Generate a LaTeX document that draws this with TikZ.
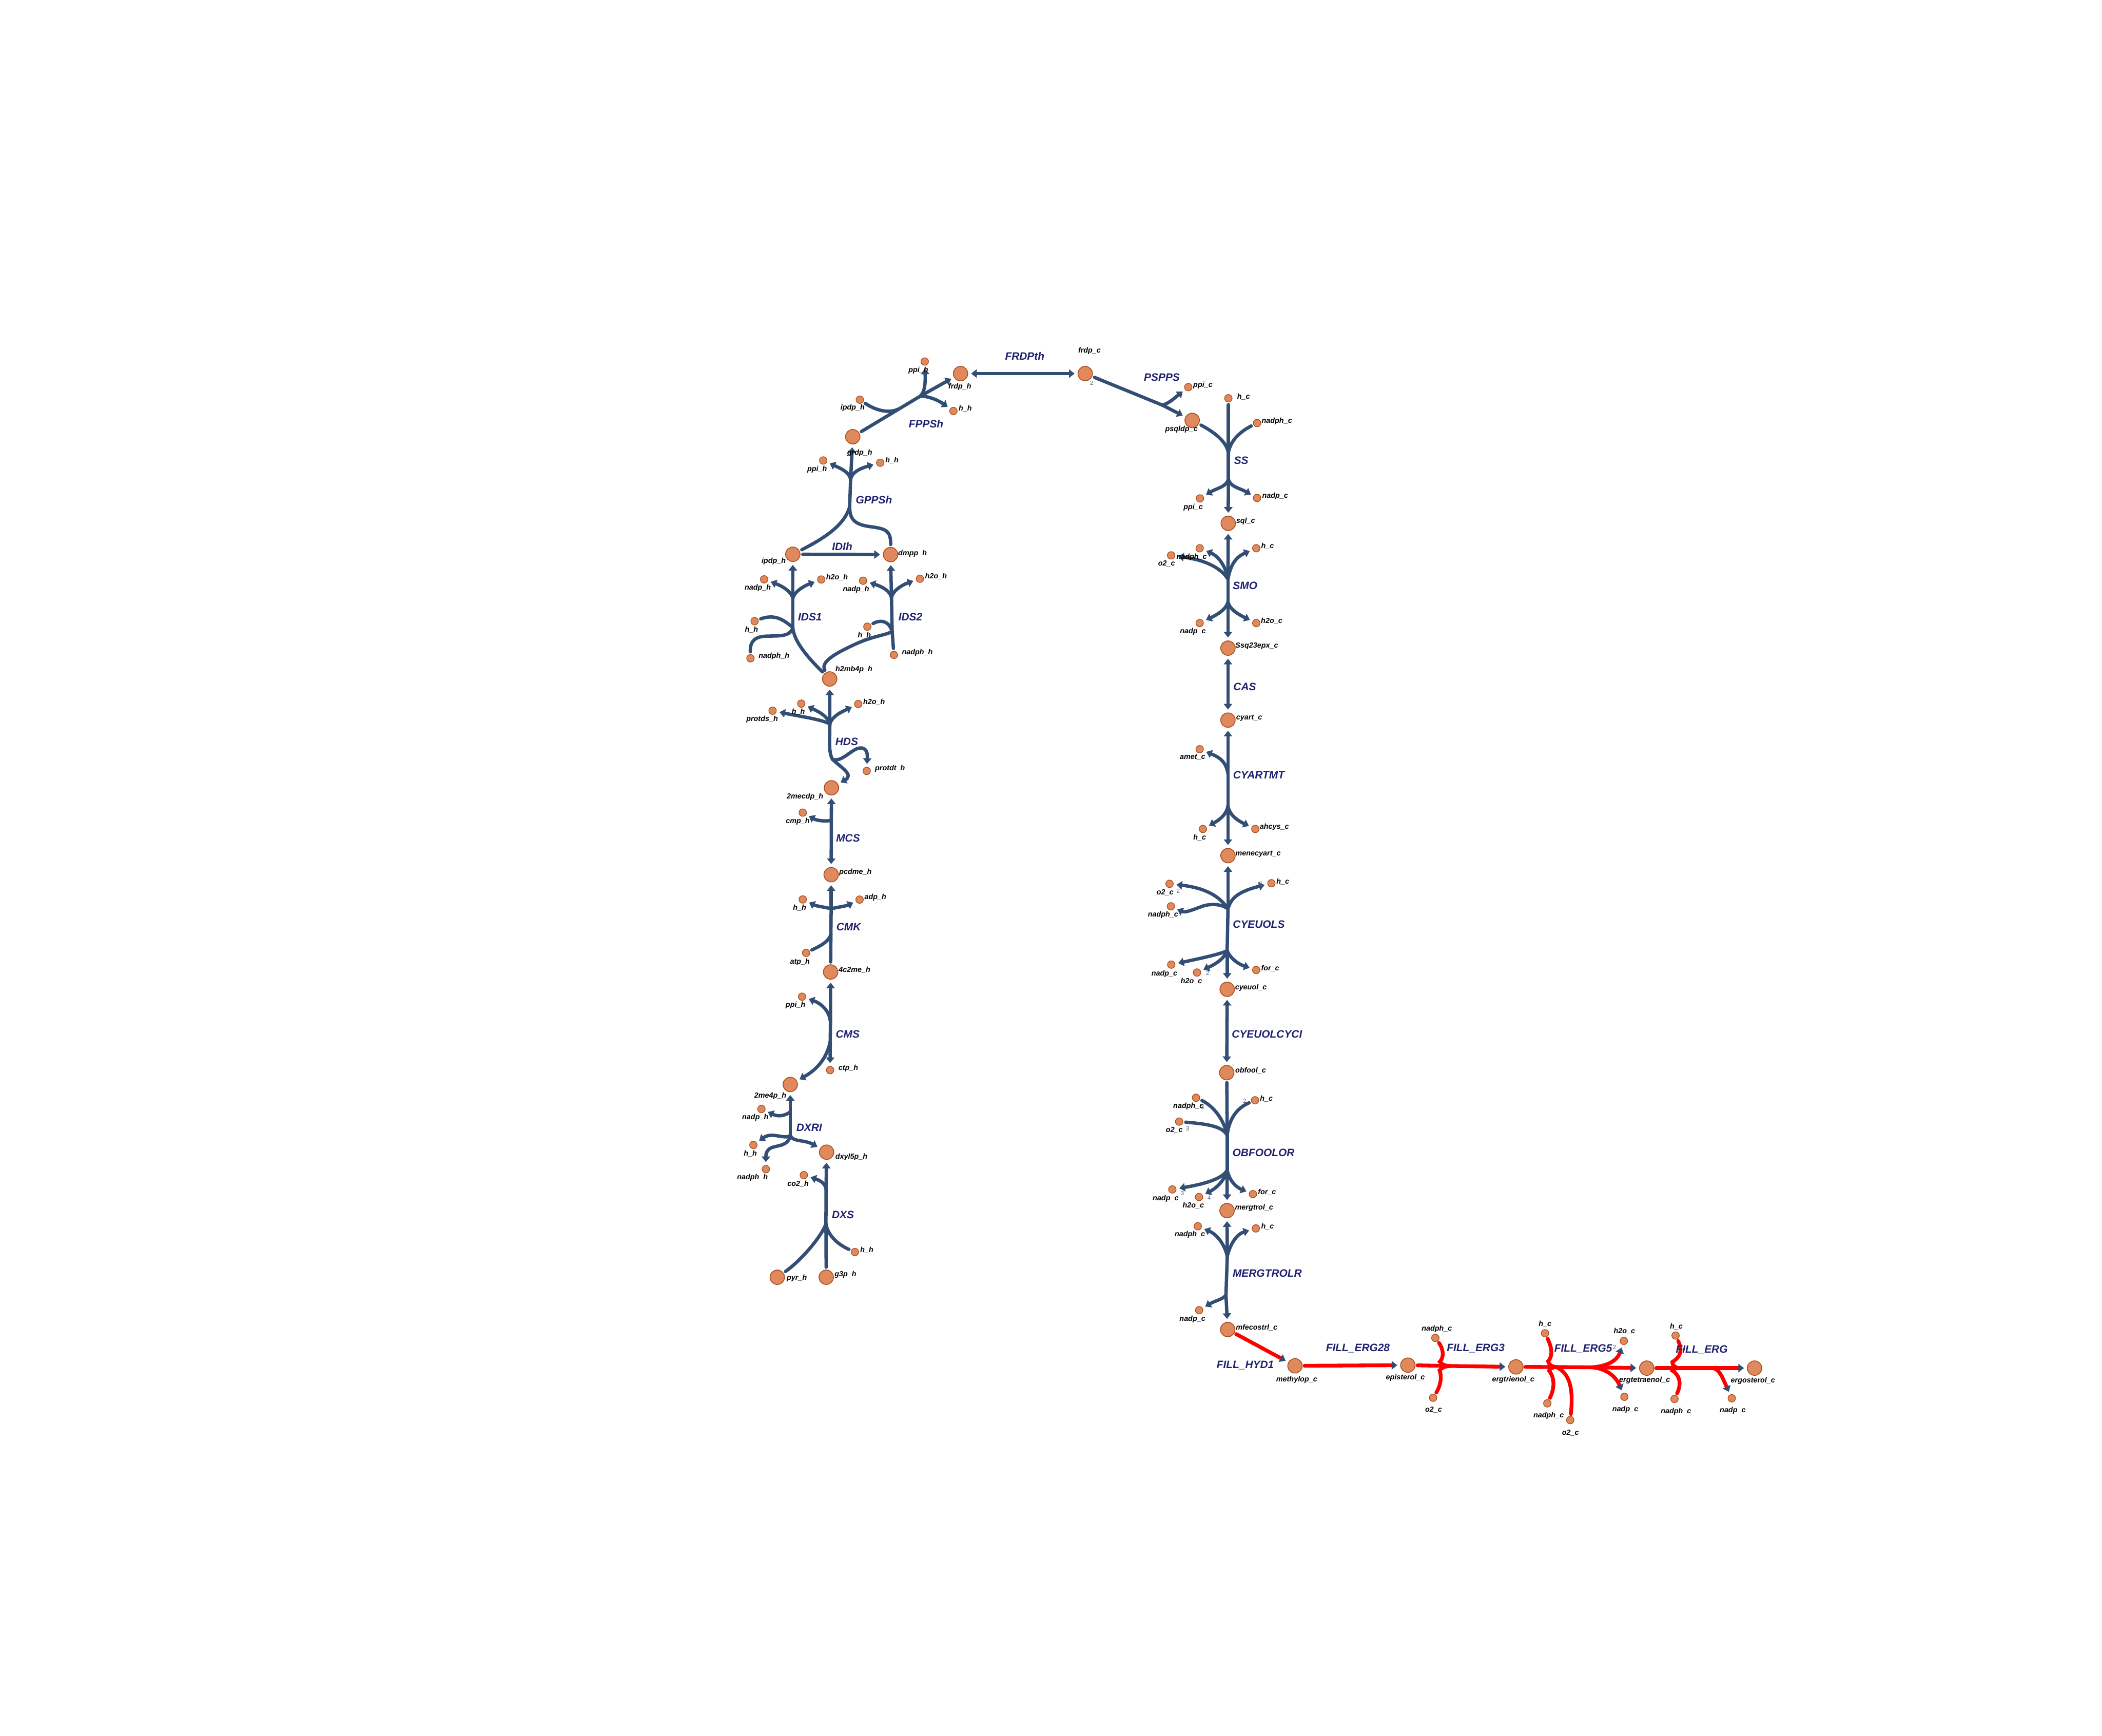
\documentclass[tikz,border=0pt]{standalone}
\usepackage{fontspec}
\setmainfont{Liberation Sans}
\usetikzlibrary{arrows.meta}
\definecolor{eb}{RGB}{51,78,116}
\definecolor{mfill}{RGB}{224,137,92}
\definecolor{mstroke}{RGB}{170,80,30}
\definecolor{rlabc}{RGB}{32,32,112}
\definecolor{stc}{RGB}{80,100,135}
\pgfdeclarelayer{bgl}
\pgfdeclarelayer{edges}
\pgfsetlayers{bgl,edges,main}
\newcommand\mkbig[4]{\node[bigm] (#1) at (#2) {}; \node[mlab] (L#1) at (#3) {#4};}
\newcommand\mksmall[4]{\node[smallm] (#1) at (#2) {}; \node[mlab] (L#1) at (#3) {#4};}
\begin{document}
\begin{tikzpicture}[x=1pt,y=-1pt,
 bigm/.style={circle,draw=mstroke,fill=mfill,line width=0.6pt,minimum size=10.8pt,inner sep=0pt},
 smallm/.style={circle,draw=mstroke,fill=mfill,line width=0.5pt,minimum size=5.6pt,inner sep=0pt},
 mlab/.style={inner sep=0pt,font=\fontsize{5.5}{6}\selectfont\bfseries\itshape},
 rlab/.style={inner sep=0pt,text=rlabc,font=\fontsize{8}{9}\selectfont\bfseries\itshape},
 stl/.style={inner sep=0pt,text=stc,font=\fontsize{4.5}{5}\selectfont},
 rx/.style={draw=eb,line width=2.5pt,line cap=round},
 sub/.style={rx,shorten <=1.8pt},
 prod/.style={rx,-{Triangle[length=4.2pt,width=6.2pt]},shorten >=2.2pt},
 both/.style={rx,{Triangle[length=4.2pt,width=6.2pt]}-{Triangle[length=4.2pt,width=6.2pt]},shorten >=2.2pt,shorten <=2.2pt},
 rd/.style={draw=red,line width=2.8pt,line cap=round},
 rsub/.style={rd,shorten <=1.5pt},
 rprod/.style={rd,-{Triangle[length=4.2pt,width=6.2pt,color=eb]},shorten >=2.2pt},
]
\begin{pgfonlayer}{bgl}
\fill[white] (0,0) rectangle (1568,1295);
\end{pgfonlayer}
\useasboundingbox (0,0) rectangle (1568,1295);

% ---------- chloroplast metabolites
\mkbig{frdph}{716.5,278.7}{716,288.5}{frdp\_h}
\mksmall{fppsppi}{689.8,269.7}{685,276.2}{ppi\_h}
\mksmall{fppsipdp}{641.4,298.2}{636,304.4}{ipdp\_h}
\mksmall{fppsh}{711.2,306.6}{720,304.8}{h\_h}
\mkbig{grdph}{636.1,325.8}{641.3,338}{grdp\_h}
\mksmall{gppsppi}{614.1,343.5}{609.5,350}{ppi\_h}
\mksmall{gppsh}{656.6,345.2}{665.4,343.6}{h\_h}
\mkbig{ipdph}{591.4,413.5}{577.1,418.8}{ipdp\_h}
\mkbig{dmpph}{664.3,413.7}{680.7,412.8}{dmpp\_h}
\mksmall{idsonenadp}{570,432.2}{565.3,438.6}{nadp\_h}
\mksmall{idsoneh}{612.6,432.3}{624.4,430.8}{h2o\_h}
\mksmall{idsonehh}{562.9,463.4}{560.6,469.6}{h\_h}
\mksmall{idsonenadph}{559.8,491.1}{577.4,489.4}{nadph\_h}
\mksmall{idstwonadp}{643.8,433.2}{638.6,439.6}{nadp\_h}
\mksmall{idstwoh}{686.2,431.7}{698.2,430}{h2o\_h}
\mksmall{idstwohh}{647,467.5}{644.8,473.9}{h\_h}
\mksmall{idstwonadph}{666.8,488.5}{684.3,486.7}{nadph\_h}
\mkbig{hmbp}{618.9,506.5}{637,499.5}{h2mb4p\_h}
\mksmall{hdsprotds}{576.3,530.2}{568.5,536.7}{protds\_h}
\mksmall{hdsh}{597.7,524.9}{595.5,531.2}{h\_h}
\mksmall{hdshho}{640.2,525.2}{652,523.7}{h2o\_h}
\mksmall{hdsprotdt}{646.5,575.1}{663.9,573.4}{protdt\_h}
\mkbig{mecdp}{620.2,587.7}{600.5,594.3}{2mecdp\_h}
\mksmall{mcscmp}{598.8,606.2}{595.1,612.7}{cmp\_h}
\mkbig{pcdme}{620,652.5}{638.1,650.8}{pcdme\_h}
\mksmall{cmkh}{598.8,671}{596.5,677.3}{h\_h}
\mksmall{cmkadp}{641.2,671.1}{653,669.5}{adp\_h}
\mksmall{cmkatp}{601.3,710.8}{596.7,717.5}{atp\_h}
\mkbig{cme}{619.6,725.1}{637.4,723.5}{4c2me\_h}
\mksmall{cmsppi}{598.3,743.5}{593.4,750}{ppi\_h}
\mksmall{cmsctp}{619.2,798.3}{632.8,797}{ctp\_h}
\mkbig{mep}{589.5,809}{574.6,817.6}{2me4p\_h}
\mksmall{dxrinadp}{568,827.3}{563.4,833.8}{nadp\_h}
\mksmall{dxrih}{562,854.1}{559.7,860.6}{h\_h}
\mksmall{dxrinadph}{571.3,872.2}{561.3,878.6}{nadph\_h}
\mkbig{dxyl}{616.6,859.5}{635.1,863}{dxyl5p\_h}
\mksmall{dxsco}{599.6,876.6}{595.3,883.1}{co2\_h}
\mkbig{pyr}{579.8,952.8}{594.4,953.5}{pyr\_h}
\mkbig{gtp}{616.3,952.8}{630.7,951}{g3p\_h}
\mksmall{dxsh}{637.7,934}{646.6,932.4}{h\_h}

% ---------- cytosol metabolites
\mkbig{frdpc}{809.5,278.7}{812.7,261.7}{frdp\_c}
\mksmall{psppsppi}{886.4,288.8}{897.3,287.3}{ppi\_c}
\mkbig{psqldp}{889.3,313.6}{881.3,320.3}{psqldp\_c}
\mksmall{ssh}{916.3,297.1}{927.6,295.8}{h\_c}
\mksmall{ssnadph}{937.7,315.6}{952.5,314.3}{nadph\_c}
\mksmall{ssppi}{895.1,371.8}{890.1,378.4}{ppi\_c}
\mksmall{ssnadp}{937.7,371.5}{951.2,370.1}{nadp\_c}
\mkbig{sql}{916.2,390.4}{929.2,389}{sql\_c}
\mksmall{smonadph}{894.9,409}{888.9,415.6}{nadph\_c}
\mksmall{smoo}{873.6,414.3}{870.2,420.6}{o2\_c}
\mksmall{smoh}{937.1,409}{945.5,407.4}{h\_c}
\mksmall{smonadp}{894.9,464.8}{889.8,471.2}{nadp\_c}
\mksmall{smohho}{937.1,464.8}{948.6,463.3}{h2o\_c}
\mkbig{ssq}{916,483.5}{937.5,481.8}{Ssq23epx\_c}
\mkbig{cyart}{916,537.2}{931.8,535.6}{cyart\_c}
\mksmall{cyaamet}{894.9,558.9}{889.6,564.9}{amet\_c}
\mksmall{cyah}{897.3,618.4}{894.9,624.9}{h\_c}
\mksmall{cyaahcys}{936.4,618.4}{950.6,616.9}{ahcys\_c}
\mkbig{mene}{916,638.3}{938.5,637.1}{menecyart\_c}
\mksmall{cyeo}{872.4,659.3}{869.1,665.7}{o2\_c}
\mksmall{cyenadph}{873.4,676.1}{867.6,682.5}{nadph\_c}
\mksmall{cyeh}{948.4,658.9}{956.9,657.6}{h\_c}
\mksmall{cyenadp}{873.7,719.6}{868.6,726.5}{nadp\_c}
\mksmall{cyehho}{892.9,725.5}{888.7,732}{h2o\_c}
\mksmall{cyefor}{937.1,723.6}{947.5,722.4}{for\_c}
\mkbig{cyeuol}{915.4,738}{933.1,736.7}{cyeuol\_c}
\mkbig{obfool}{915.1,800.2}{932.9,798.6}{obfool\_c}
\mksmall{obfnadph}{892.2,818.9}{886.5,825.4}{nadph\_c}
\mksmall{obfo}{879.6,836.7}{876,843.1}{o2\_c}
\mksmall{obfh}{936.2,820.8}{944.7,819.5}{h\_c}
\mksmall{obfnadp}{874.5,887.3}{869.5,894}{nadp\_c}
\mksmall{obfhho}{894.4,893}{890.2,899.1}{h2o\_c}
\mksmall{obffor}{934.6,890.8}{945.1,889.4}{for\_c}
\mkbig{mergtrol}{915.3,903.1}{935.5,901.2}{mergtrol\_c}
\mksmall{mernadph}{893.5,914.8}{887.6,921.1}{nadph\_c}
\mksmall{merh}{936.8,916.4}{945.5,914.9}{h\_c}
\mksmall{mernadp}{894.5,977.4}{889.5,984}{nadp\_c}
\mkbig{mfeco}{915.8,991.8}{937.4,990.3}{mfecostrl\_c}
\mkbig{methylop}{966,1018.9}{967.3,1029.4}{methylop\_c}
\mkbig{episterol}{1050.2,1018.4}{1048.3,1027.7}{episterol\_c}
\mksmall{ethreenadph}{1070.7,998.1}{1071.8,991.2}{nadph\_c}
\mksmall{ethreeo}{1069,1042.7}{1069.4,1051.8}{o2\_c}
\mkbig{ergtrienol}{1130.8,1019.7}{1128.8,1029.1}{ergtrienol\_c}
\mksmall{efiveh}{1152.5,994.6}{1152.5,987.6}{h\_c}
\mksmall{efivenadph}{1154.2,1046.9}{1155.2,1056.1}{nadph\_c}
\mksmall{efiveo}{1171.3,1059.4}{1171.5,1068.8}{o2\_c}
\mksmall{efivehho}{1211.3,1000.3}{1211.7,993.2}{h2o\_c}
\mksmall{efivenadp}{1211.7,1042}{1212.4,1051.4}{nadp\_c}
\mkbig{ergtetraenol}{1228.4,1020.6}{1226.8,1029.5}{ergtetraenol\_c}
\mksmall{eh}{1249.9,996.3}{1250.4,989.6}{h\_c}
\mksmall{enadph}{1249.1,1043.6}{1250.2,1052.9}{nadph\_c}
\mksmall{enadp}{1291.8,1043.1}{1292.5,1052.3}{nadp\_c}
\mkbig{ergosterol}{1308.8,1020.6}{1307.6,1030}{ergosterol\_c}

% ---------- reaction labels
\node[rlab] (rFRDPth) at (764.4,265.5) {FRDPth};
\node[rlab] (rPSPPS) at (866.7,281.5) {PSPPS};
\node[rlab] (rFPPSh) at (690.8,316.2) {FPPSh};
\node[rlab] (rSS) at (925.9,343.5) {SS};
\node[rlab] (rGPPSh) at (651.9,373) {GPPSh};
\node[rlab] (rIDIh) at (628.2,407.7) {IDIh};
\node[rlab] (rIDSa) at (604.2,460.3) {IDS1};
\node[rlab] (rIDSb) at (679.1,460.1) {IDS2};
\node[rlab] (rSMO) at (928.8,437) {SMO};
\node[rlab] (rCAS) at (928.5,512.3) {CAS};
\node[rlab] (rHDS) at (631.6,553.2) {HDS};
\node[rlab] (rCYARTMT) at (939,578.2) {CYARTMT};
\node[rlab] (rMCS) at (632.6,625.3) {MCS};
\node[rlab] (rCYEUOLS) at (939,689.6) {CYEUOLS};
\node[rlab] (rCMK) at (633,691.4) {CMK};
\node[rlab] (rCMS) at (632.3,771.5) {CMS};
\node[rlab] (rCYC) at (945.1,771.3) {CYEUOLCYCI};
\node[rlab] (rDXRI) at (603.6,841.1) {DXRI};
\node[rlab] (rOBF) at (942.5,859.8) {OBFOOLOR};
\node[rlab] (rDXS) at (628.8,906.1) {DXS};
\node[rlab] (rMER) at (945.3,949.9) {MERGTROLR};
\node[rlab] (rHYD) at (928.9,1018.4) {FILL\_HYD1};
\node[rlab] (rEa) at (1012.9,1006) {FILL\_ERG28};
\node[rlab] (rEb) at (1100.8,1005.9) {FILL\_ERG3};
\node[rlab] (rEc) at (1181,1006.3) {FILL\_ERG5};
\node[rlab] (rEd) at (1269.4,1006.8) {FILL\_ERG};

% ---------- stoichiometry
\node[stl] (s1) at (814.4,285.7) {2};
\node[stl] (s2) at (878.9,664.7) {2};
\node[stl] (s3) at (940.3,659.3) {2};
\node[stl] (s4) at (900.8,726.1) {2};
\node[stl] (s5) at (897,825.9) {3};
\node[stl] (s6) at (885.9,841.8) {3};
\node[stl] (s7) at (928.5,821.2) {2};
\node[stl] (s8) at (881.9,890.2) {3};
\node[stl] (s9) at (902,893.5) {4};
\node[stl] (s10) at (1204.4,1005) {2};

\begin{pgfonlayer}{edges}
% FRDPth
\draw[both] (frdph) -- (frdpc);
% FPPSh
\coordinate (fpA) at (671,304.8);
\coordinate (fpB) at (686.5,295.5);
\draw[sub] (grdph) -- (fpB);
\draw[prod] (fpB) -- (frdph);
\draw[sub] (fppsipdp) .. controls (653,306) and (663,309) .. (fpA);
\draw[prod] (fpB) .. controls (690,292) and (690.3,286) .. (fppsppi);
\draw[prod] (fpB) .. controls (692,295.5) and (699,298) .. (fppsh);
% PSPPS
\coordinate (psA) at (867,302.2);
\draw[sub] (frdpc) -- (psA);
\draw[prod] (psA) -- (psqldp);
\draw[prod] (psA) .. controls (872,301) and (876,297) .. (psppsppi);
% SS
\coordinate (ssA) at (916.3,338);
\coordinate (ssB) at (916.3,357);
\draw[sub] (ssh) -- (ssA);
\draw[rx] (ssA) -- (ssB);
\draw[prod] (ssB) -- (sql);
\draw[sub] (psqldp) .. controls (905,322) and (915,329) .. (ssA);
\draw[sub] (ssnadph) .. controls (925,322) and (917.5,329) .. (ssA);
\draw[prod] (ssB) .. controls (915.5,363) and (908,364) .. (ssppi);
\draw[prod] (ssB) .. controls (917,363) and (924.5,364) .. (ssnadp);
% GPPSh
\coordinate (gpA) at (633.8,378);
\coordinate (gpB) at (634.5,358);
\draw[sub] (ipdph) .. controls (614,402) and (630,392) .. (gpA);
\draw[sub] (dmpph) .. controls (664.5,396) and (661,394.5) .. (650,393) .. controls (638,391.5) and (633.8,388) .. (gpA);
\draw[rx] (gpA) -- (gpB);
\draw[prod] (gpB) -- (grdph);
\draw[prod] (gpB) .. controls (634,352) and (626,349) .. (gppsppi);
\draw[prod] (gpB) .. controls (635,352) and (643,349) .. (gppsh);
% IDIh
\draw[prod,shorten <=1.8pt] (ipdph) -- (dmpph);
% IDS1
\coordinate (iaA) at (591.4,468);
\coordinate (iaB) at (591.4,446);
\draw[sub] (hmbp) .. controls (602,490) and (592,478) .. (iaA);
\draw[sub] (idsonehh) .. controls (580,457) and (587,465) .. (iaA);
\draw[sub] (idsonenadph) .. controls (559.5,478) and (563,474.5) .. (574,474.5) .. controls (584,474.5) and (590,474) .. (iaA);
\draw[rx] (iaA) -- (iaB);
\draw[prod] (iaB) -- (ipdph);
\draw[prod] (iaB) .. controls (590,441) and (583,437) .. (idsonenadp);
\draw[prod] (iaB) .. controls (593,441) and (600,437) .. (idsoneh);
% IDS2
\coordinate (ibA) at (665.5,471);
\coordinate (ibB) at (665,446);
\draw[sub] (idstwonadph) -- (ibA);
\draw[sub] (hmbp) .. controls (612,494) and (622,488) .. (637,481) .. controls (652,474) and (661,474) .. (ibA);
\draw[sub] (idstwohh) .. controls (657,462) and (663,463) .. (ibA);
\draw[rx] (ibA) -- (ibB);
\draw[prod] (ibB) -- (dmpph);
\draw[prod] (ibB) .. controls (664,440) and (656,437) .. (idstwonadp);
\draw[prod] (ibB) .. controls (666,440) and (674,436) .. (idstwoh);
% HDS
\coordinate (hdA) at (619,540);
\coordinate (hdB) at (621,566.5);
\draw[prod] (hdA) -- (hmbp);
\draw[prod] (hdA) .. controls (612,536.5) and (597,534.5) .. (hdsprotds);
\draw[prod] (hdA) .. controls (617,534) and (611,531) .. (hdsh);
\draw[prod] (hdA) .. controls (621,534) and (628,531) .. (hdshho);
\draw[rx] (hdA) .. controls (619,554) and (618,561) .. (hdB);
\draw[prod] (hdB) .. controls (629,569) and (636,557) .. (643,558) .. controls (647.5,559) and (647,564) .. (hdsprotdt);
\draw[prod] (hdB) .. controls (628,573) and (637,578) .. (mecdp);
% MCS
\draw[both] (mecdp) -- (pcdme);
\coordinate (mcA) at (620.1,612);
\draw[prod] (mcA) .. controls (615,613) and (609,612) .. (mcscmp);
% CMK
\coordinate (ckA) at (619.8,697);
\coordinate (ckB) at (620,678);
\draw[sub] (cme) -- (ckA);
\draw[sub] (cmkatp) .. controls (611,706) and (618,703) .. (ckA);
\draw[rx] (ckA) -- (ckB);
\draw[prod] (ckB) -- (pcdme);
\draw[prod] (ckB) .. controls (617,677) and (609,676) .. (cmkh);
\draw[prod] (ckB) .. controls (623,677) and (631,676) .. (cmkadp);
% CMS
\coordinate (csA) at (619.5,763);
\coordinate (csB) at (619.3,777);
\draw[prod] (csA) -- (cme);
\draw[prod] (csA) .. controls (619,753) and (611,748) .. (cmsppi);
\draw[rx] (csA) -- (csB);
\draw[prod] (csB) -- (cmsctp);
\draw[prod] (csB) .. controls (617,788) and (611,797) .. (mep);
% DXRI
\coordinate (dxA) at (589.5,847);
\coordinate (dxB) at (589.5,829.5);
\draw[rx] (dxA) -- (dxB);
\draw[prod] (dxB) -- (mep);
\draw[prod] (dxB) .. controls (583,834) and (578,832) .. (dxrinadp);
\draw[prod] (dxA) .. controls (586,850.5) and (576,844) .. (dxrih);
\draw[prod] (dxA) .. controls (588,856) and (578,854) .. (574,857) .. controls (571.5,859) and (571.3,861) .. (dxrinadph);
\draw[prod] (dxA) .. controls (591,852) and (600,850) .. (dxyl);
% DXS
\coordinate (dsA) at (616.1,913);
\coordinate (dsB) at (616.2,887);
\draw[sub] (gtp) -- (dsA);
\draw[sub] (pyr) .. controls (598,940) and (613,922) .. (dsA);
\draw[sub] (dxsh) .. controls (622,927) and (617,919) .. (dsA);
\draw[rx] (dsA) -- (dsB);
\draw[prod] (dsB) -- (dxyl);
\draw[prod] (dsB) .. controls (615.5,882) and (610,880) .. (dxsco);
% SMO
\coordinate (smA) at (916,432);
\coordinate (smB) at (916,449);
\draw[prod] (smA) -- (sql);
\draw[prod] (smA) .. controls (914,421) and (908,414.5) .. (smonadph);
\draw[prod] (smA) .. controls (911,424) and (900,418) .. (smoo);
\draw[prod] (smA) .. controls (918,421) and (922,415.5) .. (smoh);
\draw[rx] (smA) -- (smB);
\draw[prod] (smB) -- (ssq);
\draw[prod] (smB) .. controls (915,454) and (909,458) .. (smonadp);
\draw[prod] (smB) .. controls (917,454) and (923,458) .. (smohho);
% CAS
\draw[both] (ssq) -- (cyart);
% CYARTMT
\coordinate (caA) at (916,577);
\coordinate (caB) at (916,601);
\draw[prod] (caA) -- (cyart);
\draw[prod] (caA) .. controls (914.5,569) and (911,565.5) .. (cyaamet);
\draw[rx] (caA) -- (caB);
\draw[prod] (caB) -- (mene);
\draw[prod] (caB) .. controls (915,608) and (909,612) .. (cyah);
\draw[prod] (caB) .. controls (917,608) and (923,612) .. (cyaahcys);
% CYEUOLS
\coordinate (ceA) at (916,678);
\coordinate (ceB) at (915.4,709);
\draw[prod] (ceA) -- (mene);
\draw[prod] (ceA) .. controls (912,672) and (904,663) .. (cyeo);
\draw[prod] (ceA) .. controls (912,675) and (905,673.5) .. (897,676) .. controls (889,679) and (884,681) .. (cyenadph);
\draw[prod] (ceA) .. controls (918,671) and (922,665.5) .. (cyeh);
\draw[rx] (ceA) -- (ceB);
\draw[prod] (ceB) -- (cyeuol);
\draw[prod] (ceB) .. controls (913,711) and (900,714) .. (cyenadp);
\draw[prod] (ceB) .. controls (913,716) and (905,720) .. (cyehho);
\draw[prod] (ceB) .. controls (917,714) and (923,719) .. (cyefor);
% CYEUOLCYCI
\draw[both] (cyeuol) -- (obfool);
% OBFOOLOR
\coordinate (obA) at (915.4,847);
\coordinate (obB) at (915.4,873);
\draw[sub] (obfool) -- (obA);
\draw[sub] (obfnadph) .. controls (905,825) and (913,835) .. (obA);
\draw[sub] (obfo) .. controls (900,838.5) and (912,840) .. (obA);
\draw[sub] (obfh) .. controls (924,826) and (917,833) .. (obA);
\draw[rx] (obA) -- (obB);
\draw[prod] (obB) -- (mergtrol);
\draw[prod] (obB) .. controls (912,879) and (900,883) .. (obfnadp);
\draw[prod] (obB) .. controls (913,882) and (906,887) .. (obfhho);
\draw[prod] (obB) .. controls (917.5,882) and (923,886) .. (obffor);
% MERGTROLR
\coordinate (meA) at (915.5,937);
\coordinate (meB) at (914.5,966);
\draw[prod] (meA) -- (mergtrol);
\draw[prod] (meA) .. controls (913,927) and (907,920.5) .. (mernadph);
\draw[prod] (meA) .. controls (918,927) and (923,920.5) .. (merh);
\draw[rx] (meA) -- (meB);
\draw[prod] (meB) -- (mfeco);
\draw[prod] (meB) .. controls (913,969) and (906,970.5) .. (mernadp);
% FILL_HYD1
\draw[rprod,shorten <=1.5pt] (mfeco) -- (methylop);
% FILL_ERG28
\draw[rprod,shorten <=1.5pt] (methylop) -- (episterol);
% FILL_ERG3
\coordinate (ecA) at (1081.5,1019);
\draw[rsub] (episterol) -- (ecA);
\draw[rprod] (ecA) -- (ergtrienol);
\draw[rsub] (ethreenadph) .. controls (1076.5,1006) and (1077.5,1012.5) .. (1074,1015.8) .. controls (1075.5,1018) and (1078,1018.8) .. (ecA);
\draw[rsub] (ethreeo) .. controls (1075,1033) and (1075.5,1026) .. (1073.8,1022.3) .. controls (1075.5,1020.2) and (1078,1019.3) .. (ecA);
% FILL_ERG5
\coordinate (efA) at (1161,1019.8);
\coordinate (efB) at (1187,1020);
\draw[rsub] (ergtrienol) -- (efA);
\draw[rd] (efA) -- (efB);
\draw[rprod] (efB) -- (ergtetraenol);
\draw[rsub] (efiveh) .. controls (1157,1004) and (1159,1011) .. (1154.8,1015.5) .. controls (1155.5,1018.5) and (1158,1019.5) .. (efA);
\draw[rsub] (efivenadph) .. controls (1159.5,1036) and (1160,1028) .. (1155.5,1022.5) .. controls (1156.5,1020.7) and (1158.5,1020) .. (efA);
\draw[rsub] (efiveo) .. controls (1173.5,1038) and (1172,1025) .. (efA);
\draw[rprod] (efB) .. controls (1197,1019.5) and (1206,1016) .. (efivehho);
\draw[rprod] (efB) .. controls (1197,1020.5) and (1205,1026) .. (efivenadp);
% FILL_ERG
\coordinate (egA) at (1253,1020.6);
\coordinate (egB) at (1278,1020.6);
\draw[rsub] (ergtetraenol) -- (egA);
\draw[rd] (egA) -- (egB);
\draw[rprod] (egB) -- (ergosterol);
\draw[rsub] (eh) .. controls (1255,1007) and (1254,1012) .. (1247.5,1016) .. controls (1247.5,1019) and (1250,1020.4) .. (egA);
\draw[rsub] (enadph) .. controls (1254.5,1032) and (1253,1026) .. (1247.5,1022.5) .. controls (1248,1021) and (1250,1020.7) .. (egA);
\draw[rprod] (egB) .. controls (1283,1022) and (1285,1028) .. (enadp);
\end{pgfonlayer}
\end{tikzpicture}
\end{document}
